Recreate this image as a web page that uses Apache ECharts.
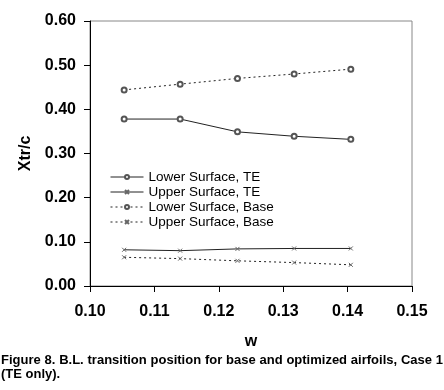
<!DOCTYPE html>
<html>
<head>
<meta charset="utf-8">
<style>
html,body{margin:0;padding:0;background:#fff;}
#chart{width:444px;height:390px;}
</style>
<script src="https://cdn.jsdelivr.net/npm/echarts@6/dist/echarts.min.js"></script>
</head>
<body>
<div id="chart"></div>
<script>
const wValues = [0.1053, 0.1140, 0.1229, 0.1317, 0.1405];
const lowerTE = [0.378, 0.378, 0.349, 0.339, 0.332];
const upperTE = [0.082, 0.080, 0.084, 0.085, 0.085];
const lowerBase = [0.444, 0.457, 0.470, 0.480, 0.491];
const upperBase = [0.065, 0.062, 0.057, 0.053, 0.048];
const seriesNames = ['Lower Surface, TE', 'Upper Surface, TE', 'Lower Surface, Base', 'Upper Surface, Base'];
const captionLine1 = 'Figure 8. B.L. transition position for base and optimized airfoils, Case 1';
const captionLine2 = '(TE only).';

const FONT = '"Liberation Sans", Arial, sans-serif';
const pairs = arr => wValues.map((w, i) => [w, arr[i]]);
const crossPath = 'path://M0,0L10,10M10,0L0,10';

function mk(name, data, dashed, symbol) {
  const isCross = symbol === 'cross';
  return {
    name: name,
    type: 'line',
    data: pairs(data),
    symbol: isCross ? crossPath : 'emptyCircle',
    symbolSize: isCross ? 4 : 5,
    lineStyle: { color: '#222', width: 1, type: dashed ? [2, 3] : 'solid' },
    itemStyle: isCross ? { color: '#666', borderColor: '#666', borderWidth: 1 }
                       : { color: '#555', borderWidth: 1 },
    emphasis: { disabled: true },
    animation: false
  };
}

// justified caption line built from measured word widths
const ctx = document.createElement('canvas').getContext('2d');
const capFont = 'bold 13px ' + FONT;
ctx.font = capFont;
const words = captionLine1.split(' ');
const wordW = words.map(w => ctx.measureText(w).width);
const total = wordW.reduce((a, b) => a + b, 0);
const lineLeft = 1, lineRight = 443;
const gap = Math.max(2, (lineRight - lineLeft - total) / (words.length - 1));
let cx = lineLeft;
const capElems = words.map((w, i) => {
  const el = { type: 'text', x: cx, y: 360, style: { text: w, font: capFont, fill: '#000', verticalAlign: 'middle' } };
  cx += wordW[i] + gap;
  return el;
});
capElems.push({ type: 'text', x: lineLeft, y: 374, style: { text: captionLine2, font: capFont, fill: '#000', verticalAlign: 'middle' } });

const chart = echarts.init(document.getElementById('chart'), null, { renderer: 'canvas' });
chart.setOption({
  animation: false,
  backgroundColor: '#fff',
  textStyle: { fontFamily: FONT },
  grid: { left: 90, right: 32, top: 21, bottom: 104, show: true, borderColor: '#888', borderWidth: 1 },
  legend: {
    data: seriesNames,
    orient: 'vertical',
    left: 105,
    top: 165,
    itemWidth: 33,
    itemHeight: 5,
    itemGap: 1,
    lineStyle: { width: 1 },
    textStyle: { fontSize: 13.5, color: '#000', fontFamily: FONT },
    selectedMode: false
  },
  xAxis: {
    type: 'value',
    min: 0.10, max: 0.15, interval: 0.01,
    name: 'w', nameLocation: 'middle', nameGap: 48,
    nameTextStyle: { fontSize: 16, fontWeight: 'bold', color: '#000', fontFamily: FONT },
    axisLine: { show: true, lineStyle: { color: '#000', width: 1 } },
    axisTick: { show: true, inside: false, length: 6, lineStyle: { color: '#000' } },
    axisLabel: { fontSize: 16, fontWeight: 'bold', color: '#000', margin: 18, formatter: v => v.toFixed(2), fontFamily: FONT },
    splitLine: { show: false }
  },
  yAxis: {
    type: 'value',
    min: 0, max: 0.6, interval: 0.1,
    name: 'Xtr/c', nameLocation: 'middle', nameGap: 55, nameRotate: 90,
    nameTextStyle: { fontSize: 16, fontWeight: 'bold', color: '#000', fontFamily: FONT },
    axisLine: { show: true, lineStyle: { color: '#000', width: 1 } },
    axisTick: { show: true, inside: false, length: 6, lineStyle: { color: '#000' } },
    axisLabel: { fontSize: 16, fontWeight: 'bold', color: '#000', margin: 14, formatter: v => v.toFixed(2), fontFamily: FONT },
    splitLine: { show: false }
  },
  series: [
    mk(seriesNames[0], lowerTE, false, 'circle'),
    mk(seriesNames[1], upperTE, false, 'cross'),
    mk(seriesNames[2], lowerBase, true, 'circle'),
    mk(seriesNames[3], upperBase, true, 'cross')
  ],
  graphic: capElems
});
</script>
</body>
</html>
